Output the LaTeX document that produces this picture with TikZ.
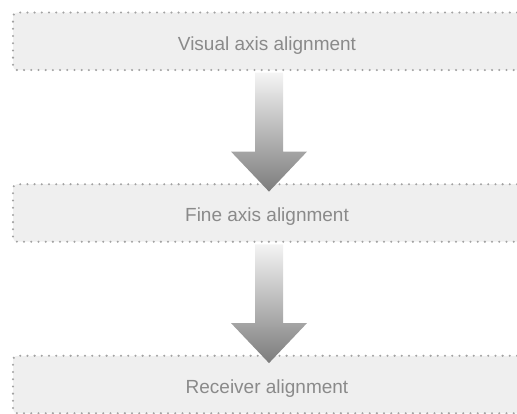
\documentclass[tikz,border=0pt]{standalone}
\usepackage{fontspec}
\setmainfont{Liberation Sans}
\usetikzlibrary{calc}
\definecolor{boxfill}{HTML}{EFEFEF}
\definecolor{dotgray}{HTML}{A2A2A2}
\definecolor{textgray}{HTML}{8A8A8A}
\definecolor{arrowtop}{HTML}{F4F4F4}
\definecolor{arrowbottom}{HTML}{7C7C7C}
\tikzset{
  stagebox/.style={draw=dotgray, fill=boxfill, line width=2.3pt, line cap=round,
    dash pattern=on 0pt off 7.2pt, rounded corners=4pt,
    minimum width=508pt, minimum height=57.5pt, inner sep=0pt,
    font=\fontsize{19}{22}\selectfont, text=textgray,
    text height=13.6pt, text depth=0pt},
  flowarrow/.style={draw=none, top color=arrowtop, bottom color=arrowbottom}
}
\begin{document}
\begin{tikzpicture}[x=1pt,y=-1pt]
\useasboundingbox (0,0) rectangle (517,414);
\clip (0,0) rectangle (517,414);

% the three stages
\node[stagebox] (visual)   at (267,41.3)  {\raisebox{-2pt}{Visual axis alignment}};
\node[stagebox] (fine)     at (267,213)   {\raisebox{-2pt}{Fine axis alignment}};
\node[stagebox] (receiver) at (267,384.5) {\raisebox{-2pt}{Receiver alignment}};

% block arrows between consecutive stages
\foreach \from/\to in {visual/fine, fine/receiver}{
  \coordinate (s) at ($(\from.south)+(2,1.5)$);
  \coordinate (t) at ($(\to.north)+(2,8.5)$);
  \path[flowarrow]
    ($(s)+(-14,0)$) -- ($(s)+(14,0)$) -- ($(t)+(14,-40)$) -- ($(t)+(38,-40)$)
    -- (t) -- ($(t)+(-38,-40)$) -- ($(t)+(-14,-40)$) -- cycle;
}
\end{tikzpicture}
\end{document}
